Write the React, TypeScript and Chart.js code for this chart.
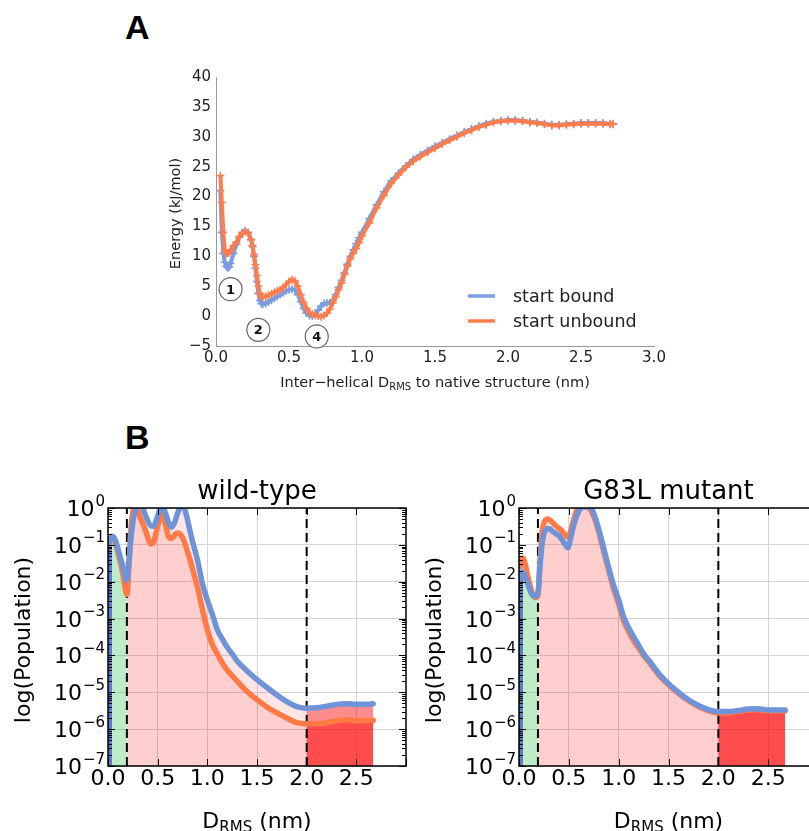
import React, { useEffect, useRef } from "react";
import { Chart, registerables } from "chart.js";
Chart.register(...registerables);

const FONT = "'DejaVu Sans', sans-serif";

// ---------------- Panel A data ----------------
const energyX = [0.03,0.04,0.05,0.06,0.07,0.08,0.09,0.10,0.12,0.14,0.16,0.18,0.20,0.22,0.24,0.25,0.26,0.27,0.28,0.29,0.30,0.31,0.32,0.34,0.36,0.38,0.40,0.42,0.44,0.46,0.48,0.50,0.52,0.54,0.56,0.58,0.60,0.62,0.64,0.66,0.68,0.70,0.72,0.74,0.76,0.78,0.80,0.82,0.84,0.86,0.88,0.90,0.92,0.94,0.96,0.98,1.00,1.05,1.10,1.15,1.20,1.25,1.30,1.35,1.40,1.45,1.50,1.55,1.60,1.65,1.70,1.75,1.80,1.85,1.90,1.95,2.00,2.05,2.10,2.15,2.20,2.25,2.30,2.35,2.40,2.45,2.50,2.55,2.60,2.65,2.70,2.72];
const energyStartBound = [21,14,10.5,9,8.3,8.1,8.2,8.8,10.5,12.0,13.2,14.0,14.3,14.0,12.8,11.6,10.0,8.0,5.8,3.8,2.6,2.1,2.0,2.1,2.4,2.7,3.0,3.3,3.6,3.9,4.2,4.4,4.5,4.4,3.6,2.4,1.3,0.5,0.1,0.0,0.3,1.0,1.7,2.1,2.2,2.2,2.6,3.6,4.8,6.0,7.3,8.7,10.0,11.1,12.1,13.1,14.0,16.3,18.6,20.8,22.6,23.9,25.1,26.2,27.0,27.7,28.4,29.0,29.6,30.2,30.8,31.3,31.8,32.2,32.5,32.7,32.8,32.8,32.7,32.5,32.4,32.2,32.0,32.0,32.1,32.2,32.3,32.3,32.3,32.3,32.2,32.2];
const energyStartUnbound = [23.5,19,14,11,10.5,10.5,10.6,11.0,11.8,12.4,13.3,13.9,14.1,13.9,12.8,11.8,10.3,8.6,6.8,5.0,3.8,3.3,3.2,3.3,3.5,3.7,4.0,4.2,4.4,4.8,5.3,5.8,6.1,5.9,5.0,3.6,2.3,1.3,0.6,0.3,0.1,0.0,-0.1,0.1,0.5,1.2,2.2,3.2,4.4,5.6,7.0,8.4,9.6,10.5,11.3,12.3,13.4,15.6,18.1,20.2,22.2,23.6,24.9,25.9,26.7,27.4,28.1,28.8,29.4,30.0,30.6,31.1,31.6,32.0,32.4,32.6,32.7,32.7,32.6,32.4,32.3,32.1,31.9,31.9,32.0,32.1,32.2,32.2,32.2,32.2,32.1,32.1];
const energyXTicks = [0, 0.5, 1.0, 1.5, 2.0, 2.5, 3.0];
const energyYTicks = [-5, 0, 5, 10, 15, 20, 25, 30, 35, 40];
const seriesNames = ["start bound", "start unbound"];
const basinLabels = ["1", "2", "4"];
const basinX = [0.1, 0.29, 0.69];
const basinY = [4.5, -2.3, -3.4];

// ---------------- Panel B data ----------------
const drmsX = [0.00,0.02,0.04,0.06,0.08,0.10,0.12,0.14,0.16,0.19,0.21,0.23,0.25,0.27,0.29,0.31,0.33,0.35,0.37,0.40,0.43,0.46,0.49,0.52,0.55,0.58,0.61,0.64,0.67,0.70,0.73,0.76,0.79,0.82,0.86,0.90,0.95,1.00,1.05,1.10,1.15,1.20,1.25,1.30,1.40,1.50,1.60,1.70,1.80,1.90,2.00,2.10,2.20,2.30,2.40,2.50,2.60,2.67];
const wtStartBound = [1.0e-1,1.4e-1,1.7e-1,1.6e-1,1.2e-1,7.9e-2,5.0e-2,3.2e-2,1.9e-2,1.1e-2,3.2e-2,1.4e-1,4.0e-1,7.9e-1,1.05,1.12,1.12,1.0,7.1e-1,4.5e-1,3.3e-1,3.2e-1,5.0e-1,8.9e-1,1.07,7.1e-1,4.0e-1,3.0e-1,4.0e-1,7.1e-1,1.05,1.05,6.3e-1,2.8e-1,1.0e-1,4.0e-2,8.9e-3,3.2e-3,1.3e-3,5.0e-4,2.8e-4,1.66e-4,1.1e-4,7.1e-5,3.8e-5,2.2e-5,1.35e-5,8.5e-6,5.6e-6,4.1e-6,3.7e-6,3.8e-6,4.2e-6,4.7e-6,4.9e-6,4.7e-6,4.7e-6,4.9e-6];
const wtStartUnbound = [8.9e-2,1.26e-1,1.5e-1,1.4e-1,1.0e-1,6.3e-2,3.8e-2,2.2e-2,1.1e-2,4.5e-3,2.5e-2,2.5e-1,7.9e-1,1.12,9.5e-1,7.1e-1,5.0e-1,3.8e-1,2.8e-1,1.6e-1,1.05e-1,1.2e-1,2.5e-1,5.0e-1,6.8e-1,3.5e-1,1.66e-1,1.5e-1,1.86e-1,2.1e-1,1.9e-1,1.4e-1,7.9e-2,4.5e-2,1.8e-2,7.1e-3,1.8e-3,5.0e-4,2.0e-4,1.1e-4,6.3e-5,4.0e-5,2.8e-5,2.0e-5,1.05e-5,6.3e-6,4.0e-6,2.75e-6,2.0e-6,1.5e-6,1.4e-6,1.4e-6,1.5e-6,1.66e-6,1.8e-6,1.7e-6,1.7e-6,1.74e-6];
const mutStartBound = [1.1e-2,1.5e-2,1.8e-2,1.4e-2,1.0e-2,7.1e-3,5.0e-3,4.2e-3,4.0e-3,5.0e-3,2.5e-2,1.0e-1,2.0e-1,2.6e-1,2.8e-1,2.7e-1,2.4e-1,2.2e-1,2.0e-1,1.8e-1,1.4e-1,1.05e-1,8.3e-2,1.6e-1,3.5e-1,6.3e-1,9.3e-1,1.05,1.07,1.05,9.3e-1,6.0e-1,3.3e-1,1.66e-1,6.3e-2,2.4e-2,7.9e-3,3.2e-3,1.1e-3,5.6e-4,3.2e-4,1.9e-4,1.1e-4,7.6e-5,3.3e-5,1.7e-5,1.0e-5,6.3e-6,4.4e-6,3.4e-6,3.0e-6,3.0e-6,3.2e-6,3.5e-6,3.6e-6,3.3e-6,3.3e-6,3.3e-6];
const mutStartUnbound = [2.5e-2,4.0e-2,4.4e-2,3.2e-2,1.8e-2,1.05e-2,6.3e-3,4.5e-3,3.7e-3,4.2e-3,3.2e-2,2.0e-1,4.0e-1,4.8e-1,5.0e-1,4.7e-1,4.2e-1,3.7e-1,3.3e-1,2.8e-1,2.4e-1,1.9e-1,1.6e-1,2.5e-1,5.0e-1,8.9e-1,1.12,1.15,1.12,1.0,7.9e-1,5.0e-1,2.8e-1,1.4e-1,5.2e-2,2.0e-2,6.3e-3,2.5e-3,8.9e-4,4.5e-4,2.5e-4,1.6e-4,1.0e-4,6.8e-5,3.0e-5,1.6e-5,9.3e-6,5.9e-6,4.1e-6,3.2e-6,2.75e-6,2.75e-6,3.0e-6,3.3e-6,3.4e-6,3.1e-6,3.1e-6,3.1e-6];
const regionEdges = [0, 0.04, 0.19, 2.0, 3.0];
const stateBoundaries = [0.19, 2.0];
const popDecades = [0, -1, -2, -3, -4, -5, -6, -7];
const popXTicks = [0, 0.5, 1.0, 1.5, 2.0, 2.5];
const panelTitles = ["wild-type", "G83L mutant"];

// ---------------- styles ----------------
const BLUE_A = "#7b9ce0";
const ORANGE_A = "#ff7c4c";
const BLUE_B = "#6f93d8";
const ORANGE_B = "#ff7a45";
const REGION_FILLS = ["rgba(40,80,190,0.5)", "rgba(70,200,100,0.2)", "rgba(255,0,0,0.1)", "rgba(255,0,0,0.45)"];

function regionOf(x: number) {
  for (let i = 0; i < regionEdges.length - 1; i++) {
    if (x >= regionEdges[i] && x < regionEdges[i + 1]) return i;
  }
  return regionEdges.length - 2;
}

function drawMixed(ctx: CanvasRenderingContext2D, parts: [string, boolean][], cx: number, cy: number, size: number, subSize: number, subShift: number) {
  let total = 0;
  const widths: number[] = [];
  for (const [t, sub] of parts) {
    ctx.font = `${sub ? subSize : size}px ${FONT}`;
    const w = ctx.measureText(t).width;
    widths.push(w);
    total += w;
  }
  let x = cx - total / 2;
  ctx.textAlign = "left";
  ctx.textBaseline = "alphabetic";
  parts.forEach(([t, sub], i) => {
    ctx.font = `${sub ? subSize : size}px ${FONT}`;
    ctx.fillText(t, x, cy + (sub ? subShift : 0));
    x += widths[i];
  });
}

function EnergyChart() {
  const ref = useRef<HTMLCanvasElement>(null);
  useEffect(() => {
    const pts = (ys: number[]) => energyX.map((x, i) => ({ x, y: ys[i] }));
    const annot = {
      id: "energyAnnot",
      afterDraw(chart: any) {
        const { ctx, scales } = chart;
        const xs = scales.x, ys = scales.y;
        ctx.save();
        basinLabels.forEach((lab, i) => {
          const px = xs.getPixelForValue(basinX[i]);
          const py = ys.getPixelForValue(basinY[i]);
          ctx.beginPath();
          ctx.arc(px, py, 11.5, 0, Math.PI * 2);
          ctx.fillStyle = "#fff";
          ctx.fill();
          ctx.strokeStyle = "#666";
          ctx.lineWidth = 1.2;
          ctx.stroke();
          ctx.fillStyle = "#111";
          ctx.font = `bold 13px ${FONT}`;
          ctx.textAlign = "center";
          ctx.textBaseline = "middle";
          ctx.fillText(lab, px, py + 1);
        });
        const colors = [BLUE_A, ORANGE_A];
        const ly = [296, 321];
        seriesNames.forEach((name, i) => {
          ctx.strokeStyle = colors[i];
          ctx.lineWidth = 3.5;
          ctx.beginPath();
          ctx.moveTo(468, ly[i]);
          ctx.lineTo(495, ly[i]);
          ctx.stroke();
          ctx.fillStyle = "#222";
          ctx.font = `17.5px ${FONT}`;
          ctx.textAlign = "left";
          ctx.textBaseline = "middle";
          ctx.fillText(name, 513, ly[i] + 1);
        });
        ctx.fillStyle = "#222";
        const a = chart.chartArea;
        drawMixed(ctx, [["Inter\u2212helical D", false], ["RMS", true], [" to native structure (nm)", false]], (a.left + a.right) / 2, 387, 14.5, 10, 3);
        ctx.save();
        ctx.translate(176, (a.top + a.bottom) / 2 + 2);
        ctx.rotate(-Math.PI / 2);
        ctx.font = `14.5px ${FONT}`;
        ctx.textAlign = "center";
        ctx.textBaseline = "middle";
        ctx.fillText("Energy (kJ/mol)", 0, 0);
        ctx.restore();
        ctx.restore();
      },
    };
    const chart = new Chart(ref.current!, {
      type: "line",
      data: {
        datasets: [
          {
            label: seriesNames[0], data: pts(energyStartBound), borderColor: BLUE_A, backgroundColor: BLUE_A,
            borderWidth: 4, pointStyle: "cross", pointRadius: 4, pointBorderWidth: 1.6, pointBorderColor: BLUE_A, order: 1, fill: false,
          },
          {
            label: seriesNames[1], data: pts(energyStartUnbound), borderColor: ORANGE_A, backgroundColor: ORANGE_A,
            borderWidth: 4, pointStyle: "cross", pointRadius: 4, pointBorderWidth: 1.6, pointBorderColor: ORANGE_A, order: 0, fill: false,
          },
        ] as any,
      },
      options: {
        responsive: false,
        animation: false,
        devicePixelRatio: 1,
        events: [],
        layout: { padding: { left: 0, right: 155, top: 77, bottom: 0 } },
        plugins: { legend: { display: false }, tooltip: { enabled: false } },
        scales: {
          x: {
            type: "linear", min: 0, max: 3,
            afterBuildTicks: (s: any) => { s.ticks = energyXTicks.map((v) => ({ value: v })); },
            afterFit: (s: any) => { s.height = 54; },
            grid: { display: false, drawTicks: false },
            border: { display: true, color: "#999", width: 1 },
            ticks: { color: "#222", padding: 5, font: { family: FONT, size: 15, lineHeight: 1 }, callback: (v: any) => Number(v).toFixed(1) },
          },
          y: {
            type: "linear", min: -5, max: 40,
            afterBuildTicks: (s: any) => { s.ticks = energyYTicks.map((v) => ({ value: v })); },
            afterFit: (s: any) => { s.width = 216; },
            grid: { display: false, drawTicks: false },
            border: { display: true, color: "#999", width: 1 },
            ticks: { color: "#222", padding: 5, font: { family: FONT, size: 15, lineHeight: 1 }, callback: (v: any) => (Number(v) < 0 ? "\u2212" + Math.abs(Number(v)) : String(v)) },
          },
        },
      } as any,
      plugins: [annot],
    });
    return () => chart.destroy();
  }, []);
  return <canvas ref={ref} width={809} height={400} style={{ position: "absolute", left: 0, top: 0, width: 809, height: 400 }} />;
}

function PopChart(props: { left: number; width: number; chartLeft: number; chartRight: number; title: string; bound: number[]; unbound: number[] }) {
  const ref = useRef<HTMLCanvasElement>(null);
  const H = 361;
  const chartTop = 38;
  const chartBottom = 296;
  useEffect(() => {
    const pts = (ys: number[]) => drmsX.map((x, i) => ({ x, y: ys[i] }));
    const segFill = { backgroundColor: (c: any) => REGION_FILLS[regionOf((c.p0.parsed.x + c.p1.parsed.x) / 2)] };
    const fillDs = (ys: number[], order: number) => ({
      data: pts(ys), borderWidth: 0, borderColor: "rgba(0,0,0,0)", backgroundColor: REGION_FILLS[2], pointRadius: 0,
      fill: "start", cubicInterpolationMode: "monotone", segment: segFill, order, clip: 0,
    });
    const lineDs = (ys: number[], color: string, order: number) => ({
      data: pts(ys), borderWidth: 5.5, borderColor: color, backgroundColor: color, pointRadius: 0, fill: false,
      cubicInterpolationMode: "monotone", borderJoinStyle: "round", borderCapStyle: "round", order, clip: 0,
    });
    const dashDs = stateBoundaries.map((b) => ({
      data: [{ x: b, y: 1e-7 }, { x: b, y: 1 }], borderWidth: 2, borderColor: "#000", borderDash: [9, 5], pointRadius: 0, fill: false, order: 2, clip: 0,
    }));
    const deco = {
      id: "popDeco",
      afterDraw(chart: any) {
        const { ctx, chartArea: a, scales } = chart;
        const xs = scales.x, ys = scales.y;
        ctx.save();
        ctx.strokeStyle = "#000";
        ctx.lineWidth = 1;
        ctx.beginPath();
        for (let i = 0; i <= 6; i++) {
          const px = Math.round(xs.getPixelForValue(i * 0.5)) + 0.5;
          ctx.moveTo(px, a.bottom); ctx.lineTo(px, a.bottom - 7);
          ctx.moveTo(px, a.top); ctx.lineTo(px, a.top + 7);
        }
        for (const d of popDecades) {
          const py = Math.round(ys.getPixelForValue(Math.pow(10, d))) + 0.5;
          ctx.moveTo(a.left, py); ctx.lineTo(a.left + 7, py);
          ctx.moveTo(a.right, py); ctx.lineTo(a.right - 7, py);
          if (d < 0) {
            for (let m = 2; m <= 9; m++) {
              const pm = Math.round(ys.getPixelForValue(m * Math.pow(10, d))) + 0.5;
              ctx.moveTo(a.left, pm); ctx.lineTo(a.left + 4, pm);
              ctx.moveTo(a.right, pm); ctx.lineTo(a.right - 4, pm);
            }
          }
        }
        ctx.stroke();
        ctx.lineWidth = 1.5;
        ctx.strokeRect(a.left, a.top, a.right - a.left, a.bottom - a.top);
        ctx.fillStyle = "#000";
        ctx.textAlign = "left";
        ctx.textBaseline = "alphabetic";
        for (const d of popDecades) {
          const py = ys.getPixelForValue(Math.pow(10, d));
          const ex = d === 0 ? "0" : "\u2212" + Math.abs(d);
          ctx.font = `15px ${FONT}`;
          const ew = ctx.measureText(ex).width;
          ctx.font = `22px ${FONT}`;
          const bw = ctx.measureText("10").width;
          const right = a.left - 3;
          ctx.fillText("10", right - ew - bw - 1, py + 8);
          ctx.font = `15px ${FONT}`;
          ctx.fillText(ex, right - ew, py - 2.5);
        }
        ctx.font = `26px ${FONT}`;
        ctx.textAlign = "center";
        ctx.textBaseline = "alphabetic";
        ctx.fillText(props.title, (a.left + a.right) / 2, a.top - 9);
        drawMixed(ctx, [["D", false], ["RMS", true], [" (nm)", false]], (a.left + a.right) / 2, 358, 22, 15, 4);
        ctx.save();
        ctx.translate(props.chartLeft - 84, 170);
        ctx.rotate(-Math.PI / 2);
        ctx.font = `22px ${FONT}`;
        ctx.textAlign = "center";
        ctx.textBaseline = "middle";
        ctx.fillText("log(Population)", 0, 0);
        ctx.restore();
        ctx.restore();
      },
    };
    const chart = new Chart(ref.current!, {
      type: "line",
      data: {
        datasets: [
          lineDs(props.bound, BLUE_B, 0),
          lineDs(props.unbound, ORANGE_B, 1),
          ...dashDs,
          fillDs(props.unbound, 3),
          fillDs(props.bound, 4),
        ] as any,
      },
      options: {
        responsive: false,
        animation: false,
        devicePixelRatio: 1,
        events: [],
        layout: { padding: { left: 0, right: props.width - props.chartRight, top: chartTop, bottom: 0 } },
        plugins: { legend: { display: false }, tooltip: { enabled: false } },
        scales: {
          x: {
            type: "linear", min: 0, max: 3,
            afterBuildTicks: (s: any) => { s.ticks = popXTicks.map((v) => ({ value: v })); },
            afterFit: (s: any) => { s.height = H - chartBottom; },
            grid: { display: true, color: "#d4d4d4", lineWidth: 1, drawTicks: false },
            border: { display: false },
            ticks: { color: "#000", padding: 2, font: { family: FONT, size: 22, lineHeight: 1 }, callback: (v: any) => Number(v).toFixed(1) },
          },
          y: {
            type: "logarithmic", min: 1e-7, max: 1,
            afterBuildTicks: (s: any) => { s.ticks = popDecades.map((d) => ({ value: Math.pow(10, d) })); },
            afterFit: (s: any) => { s.width = props.chartLeft; },
            grid: { display: true, color: "#d4d4d4", lineWidth: 1, drawTicks: false },
            border: { display: false },
            ticks: { display: false },
          },
        },
      } as any,
      plugins: [deco],
    });
    return () => chart.destroy();
  }, []);
  return <canvas ref={ref} width={props.width} height={H} style={{ position: "absolute", left: props.left, top: 470, width: props.width, height: H }} />;
}

export default function App() {
  const letter: React.CSSProperties = { position: "absolute", left: 125, fontFamily: "'Liberation Sans', Arial, sans-serif", fontWeight: "bold", fontSize: 34, lineHeight: "34px", color: "#000" };
  return (
    <div style={{ position: "fixed", left: 0, top: 0, width: 809, height: 831, overflow: "hidden", background: "#fff" }}>
      <div style={{ ...letter, top: 10 }}>A</div>
      <div style={{ ...letter, top: 420 }}>B</div>
      <EnergyChart />
      <PopChart left={0} width={410} chartLeft={108} chartRight={406} title={panelTitles[0]} bound={wtStartBound} unbound={wtStartUnbound} />
      <PopChart left={410} width={420} chartLeft={109} chartRight={408} title={panelTitles[1]} bound={mutStartBound} unbound={mutStartUnbound} />
    </div>
  );
}
